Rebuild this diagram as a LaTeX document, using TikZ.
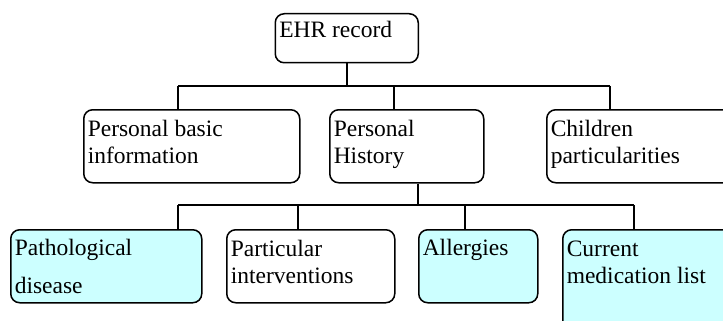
\documentclass[tikz,border=0pt]{standalone}
\usepackage{fontspec}
\setmainfont{Liberation Serif}
\definecolor{lightcyan}{HTML}{CCFFFF}
\begin{document}
\begin{tikzpicture}[x=1pt, y=-1pt,
    box/.style={draw, line width=1.5pt, rounded corners=9pt, anchor=north west,
      inner xsep=4pt, inner ysep=0pt, font=\fontsize{23.5}{27}\selectfont},
    hbox/.style={box, fill=lightcyan},
    link/.style={line width=1.5pt}]
  \useasboundingbox (0,0) rectangle (723,321);

  % Root
  \node[box] (ehr) at (274.5,13) {\parbox[t][49pt][t]{135pt}{\rule{0pt}{24pt}EHR record}};

  % First level
  \node[box] (pbi) at (83,109) {\parbox[t][73pt][t]{208pt}{\rule{0pt}{27pt}Personal basic\\information}};
  \node[box] (phist) at (329,109) {\parbox[t][73pt][t]{146pt}{\rule{0pt}{27pt}Personal\\History}};
  \node[box] (child) at (546,109) {\parbox[t][73pt][t]{200pt}{\rule{0pt}{27pt}Children\\particularities}};

  % Second level
  \node[hbox] (patho) at (10,229) {\parbox[t][73pt][t]{183pt}{\rule{0pt}{26pt}Pathological\\[11pt]disease}};
  \node[box] (partic) at (226,229) {\parbox[t][73pt][t]{160pt}{\rule{0pt}{27pt}Particular\\interventions}};
  \node[hbox] (allerg) at (418,229) {\parbox[t][73pt][t]{111pt}{\rule{0pt}{26pt}Allergies}};
  \node[hbox] (curmed) at (562,229) {\parbox[t][110pt][t]{200pt}{\rule{0pt}{27pt}Current\\medication list}};

  % Bar under the root
  \coordinate (b1l) at (178,86);
  \coordinate (b1m) at (394,86);
  \coordinate (b1r) at (610,86);
  \draw[link] (ehr.south) -- (ehr.south |- b1l);
  \draw[link] (b1l) -- (b1r);
  \draw[link] (b1l) -- (b1l |- pbi.north);
  \draw[link] (b1m) -- (b1m |- phist.north);
  \draw[link] (b1r) -- (b1r |- child.north);

  % Bar under Personal History
  \coordinate (b2l) at (178,205);
  \coordinate (b2a) at (298,205);
  \coordinate (b2m) at (418,205);
  \coordinate (b2b) at (465,205);
  \coordinate (b2r) at (634,205);
  \draw[link] (b2m |- phist.south) -- (b2m);
  \draw[link] (b2l) -- (b2r);
  \draw[link] (b2l) -- (b2l |- patho.north);
  \draw[link] (b2a) -- (b2a |- partic.north);
  \draw[link] (b2b) -- (b2b |- allerg.north);
  \draw[link] (b2r) -- (b2r |- curmed.north);
\end{tikzpicture}
\end{document}
